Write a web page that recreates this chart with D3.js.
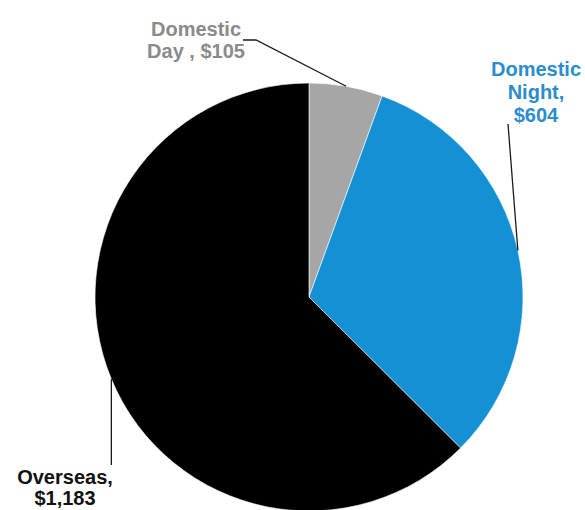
<!DOCTYPE html>
<html>
<head>
<meta charset="utf-8">
<script src="https://cdn.jsdelivr.net/npm/d3@7/dist/d3.min.js"></script>
<style>
  html, body { margin: 0; padding: 0; background: #ffffff; }
  svg { display: block; }
  text { font-family: "Liberation Sans", Arial, sans-serif; font-weight: bold; }
</style>
</head>
<body>
<script>
// Spending by call type
const categories = ["Domestic Day", "Domestic Night", "Overseas"];
const values = [105, 604, 1183];
const labelLines = [
  ["Domestic", "Day , $105"],
  ["Domestic", "Night,", "$604"],
  ["Overseas,", "$1,183"]
];
const sliceColors = ["#a6a6a6", "#1490d4", "#000000"];
const textColors = ["#8a8a8a", "#2b8dcc", "#111111"];

const W = 585, H = 510;
const cx = 309, cy = 297, R = 214;

const svg = d3.select("body").append("svg")
  .attr("width", W).attr("height", H);

const data = categories.map((c, i) => ({ name: c, value: values[i], i }));

const pie = d3.pie().sort(null).value(d => d.value);
const arcs = pie(data);
const arc = d3.arc().innerRadius(0).outerRadius(R);

const g = svg.append("g").attr("transform", `translate(${cx},${cy})`);

g.selectAll("path.slice")
  .data(arcs)
  .join("path")
  .attr("class", "slice")
  .attr("d", arc)
  .attr("fill", d => sliceColors[d.data.i])
  .attr("stroke", "#ffffff")
  .attr("stroke-width", 0.6);

// point on the rim at the middle of a slice
function rimPoint(a) {
  const m = (a.startAngle + a.endAngle) / 2;
  return [cx + R * Math.sin(m), cy - R * Math.cos(m)];
}

// label blocks: anchor x, first baseline, line step, text-anchor
const labelPos = [
  { x: 196, y: 36, step: 22, anchor: "middle" },
  { x: 536, y: 76, step: 23, anchor: "middle" },
  { x: 65, y: 484, step: 21, anchor: "middle" }
];

// leader lines from each label to its slice
const leaders = [
  a => { const p = rimPoint(a); return [[243, 40], [256, 40], p]; },
  a => { const p = rimPoint(a); return [[508, 124], p]; },
  a => { const p = rimPoint(a); return [[p[0], 465], p]; }
];

const line = d3.line();
arcs.forEach((a, k) => {
  svg.append("path")
    .attr("d", line(leaders[k](a)))
    .attr("fill", "none")
    .attr("stroke", "#1a1a1a")
    .attr("stroke-width", 1.3);
});

arcs.forEach((a, k) => {
  const p = labelPos[k];
  const t = svg.append("text")
    .attr("text-anchor", p.anchor)
    .attr("fill", textColors[k])
    .attr("font-size", 20);
  labelLines[k].forEach((s, j) => {
    t.append("tspan").attr("x", p.x).attr("y", p.y + j * p.step).text(s);
  });
});
</script>
</body>
</html>
